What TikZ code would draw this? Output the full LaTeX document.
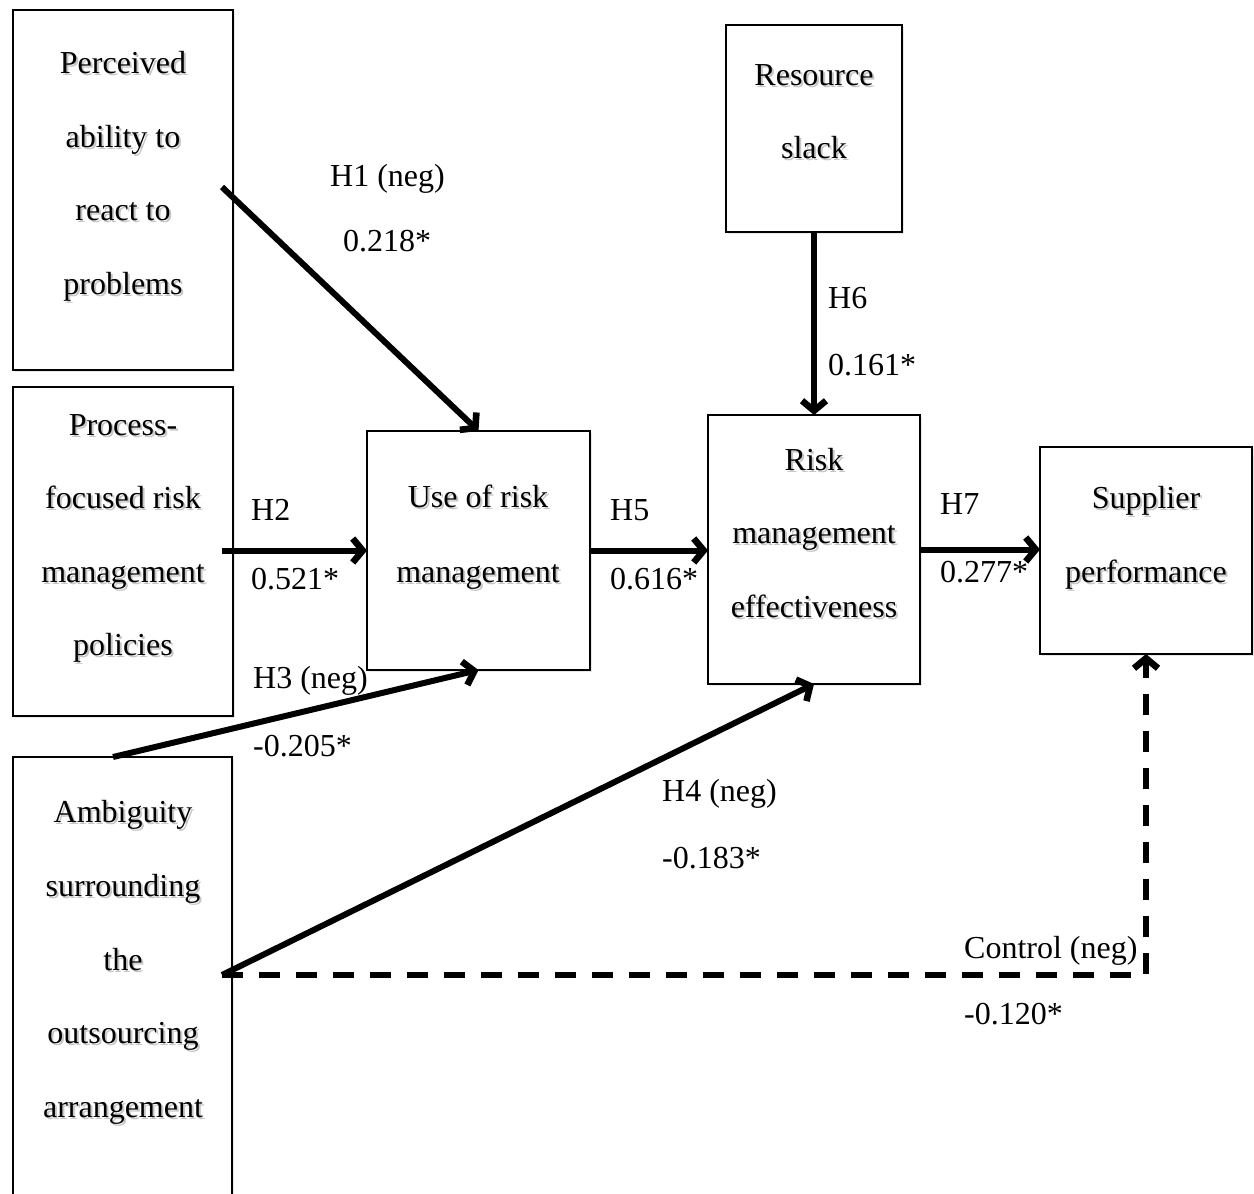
\documentclass[tikz,border=0pt]{standalone}
\usepackage{fontspec}
\setmainfont{Liberation Serif}
\usetikzlibrary{arrows.meta,calc,shadows}
% one line of box text, with a soft grey shade set just behind it
\newcommand{\boxline}[4]{%
  \node[txt] (#1) at (#2,#3)
    {\makebox[0pt][l]{\hspace{2pt}\raisebox{-2.5pt}{\color{black!22}#4}}#4};}
\begin{document}
\begin{tikzpicture}[x=1pt,y=-1pt,
  box/.style={draw,line width=2pt,fill=white,inner sep=0pt,outer sep=0pt,
    drop shadow={shadow xshift=1.5pt,shadow yshift=-2pt,opacity=0.18}},
  txt/.style={anchor=base,inner sep=0pt,font=\fontsize{32}{38}\selectfont},
  lbl/.style={anchor=base west,inner sep=0pt,font=\fontsize{32}{38}\selectfont},
  tip/.style={-{Straight Barb[length=10pt,width=24pt,line width=0pt 1.1]}},
  link/.style={line width=6pt,tip},
  ctrl/.style={line width=6pt,dash pattern=on 21pt off 16pt,tip}]
\clip (0,0) rectangle (1254,1194);
\fill[white] (0,0) rectangle (1254,1194);

% constructs
\node[box,minimum width=220pt,minimum height=360pt] (A) at (123,190) {};
\node[box,minimum width=220pt,minimum height=329pt] (B) at (123,551.5) {};
\node[box,minimum width=219pt,minimum height=473pt] (C) at (122.5,993.5) {};
\node[box,minimum width=223pt,minimum height=239pt] (U) at (478.5,550.5) {};
\node[box,minimum width=176pt,minimum height=207pt] (R) at (814,128.5) {};
\node[box,minimum width=212pt,minimum height=269pt] (E) at (814,549.5) {};
\node[box,minimum width=212pt,minimum height=207pt] (S) at (1146,550.5) {};

% box texts
\boxline{a1}{123}{73}{Perceived}
\boxline{a2}{123}{147}{ability to}
\boxline{a3}{123}{220}{react to}
\boxline{a4}{123}{294}{problems}
\boxline{b1}{123}{435}{Process-}
\boxline{b2}{123}{508}{focused risk}
\boxline{b3}{123}{582}{management}
\boxline{b4}{123}{655}{policies}
\boxline{c1}{123}{822}{Ambiguity}
\boxline{c2}{123}{896}{surrounding}
\boxline{c3}{123}{970}{the}
\boxline{c4}{123}{1043}{outsourcing}
\boxline{c5}{123}{1117}{arrangement}
\boxline{u1}{478}{507}{Use of risk}
\boxline{u2}{478}{582}{management}
\boxline{r1}{814}{85}{Resource}
\boxline{r2}{814}{158}{slack}
\boxline{e1}{814}{470}{Risk}
\boxline{e2}{814}{543}{management}
\boxline{e3}{814}{617}{effectiveness}
\boxline{s1}{1146}{508}{Supplier}
\boxline{s2}{1146}{582}{performance}

% paths
\coordinate (cs) at ($(C.east)+(-10,-18.5)$);
\draw[link] ($(A.east)+(-11,-3)$) -- (U.north);
\draw[link] ($(B.east |- U.west)+(-11,0)$) -- (U.west);
\draw[link] (U.east) -- (U.east -| E.west);
\draw[link] (E.east) -- (E.east -| S.west);
\draw[link] (R.south) -- (E.north);
\draw[link] ($(C.north)+(-9.5,0)$) -- (U.south);
\draw[link] (cs) -- (E.south);
\draw[ctrl] (cs) -- (cs -| S.south) -- (S.south);

% path labels
\node[lbl] (l1) at (330,186) {H1 (neg)};
\node[lbl] (l1v) at (343,251) {0.218*};
\node[lbl] (l6) at (828,308) {H6};
\node[lbl] (l6v) at (828,375) {0.161*};
\node[lbl] (l2) at (251,520) {H2};
\node[lbl] (l2v) at (251,589) {0.521*};
\node[lbl] (l5) at (610,520) {H5};
\node[lbl] (l5v) at (610,589) {0.616*};
\node[lbl] (l7) at (940,514) {H7};
\node[lbl] (l7v) at (940,582) {0.277*};
\node[lbl] (l3) at (253,688) {H3 (neg)};
\node[lbl] (l3v) at (253,756) {-0.205*};
\node[lbl] (l4) at (662,801) {H4 (neg)};
\node[lbl] (l4v) at (662,868) {-0.183*};
\node[lbl] (lc) at (964,958) {Control (neg)};
\node[lbl] (lcv) at (964,1024) {-0.120*};
\end{tikzpicture}
\end{document}
